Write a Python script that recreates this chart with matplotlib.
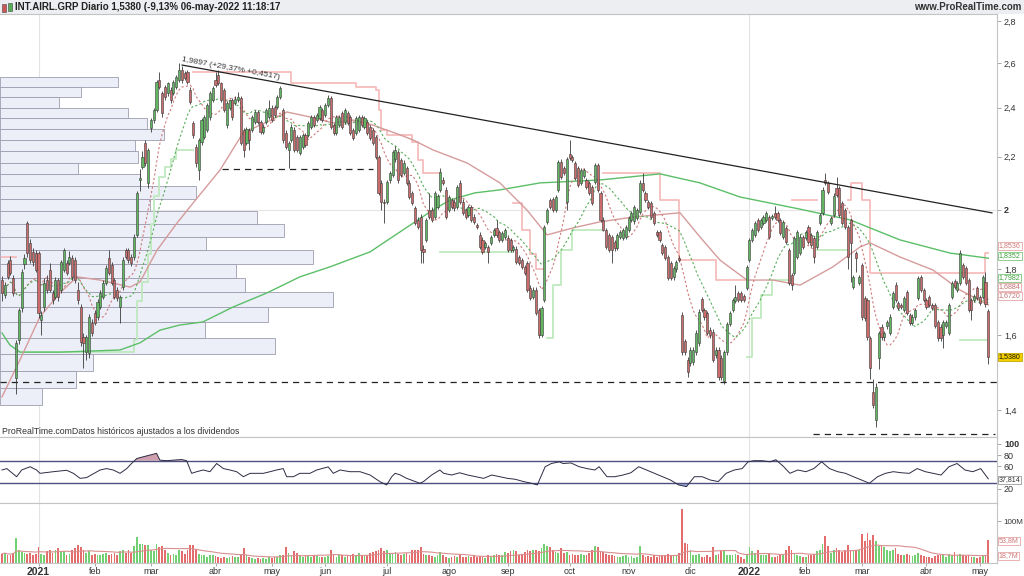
import numpy as np
import pandas as pd
import matplotlib
matplotlib.use("Agg")
import matplotlib.pyplot as plt
from matplotlib.patches import Rectangle
from matplotlib.ticker import NullLocator

plt.rcParams['font.family'] = ['Liberation Sans', 'DejaVu Sans']
nan = float('nan')

# ------------------------------------------------------------------ data
opens = [
 1.765, 1.719, 1.819, 1.829, 1.771, 1.482, 1.586, 1.680, 1.815, 1.954,
 1.886, 1.855, 1.852, 1.852, 1.644, 1.682, 1.765, 1.797, 1.724, 1.712,
 1.765, 1.734, 1.797, 1.819, 1.819, 1.835, 1.829, 1.734, 1.682, 1.594,
 1.552, 1.549, 1.635, 1.664, 1.652, 1.682, 1.712, 1.756, 1.835, 1.813,
 1.765, 1.734, 1.682, 1.743, 1.862, 1.862, 1.839, 1.839, 1.913, 2.110,
 2.160, 2.253, 2.099, 2.315, 2.348, 2.390, 2.522, 2.464, 2.490, 2.464,
 2.477, 2.464, 2.490, 2.522, 2.567, 2.554, 2.558, 2.477, 2.336, 2.238,
 2.148, 2.256, 2.278, 2.307, 2.360, 2.433, 2.522, 2.544, 2.508, 2.477,
 2.327, 2.400, 2.433, 2.420, 2.433, 2.442, 2.307, 2.254, 2.307, 2.307,
 2.339, 2.381, 2.339, 2.299, 2.339, 2.360, 2.399, 2.403, 2.403, 2.446,
 2.390, 2.295, 2.226, 2.266, 2.307, 2.278, 2.214, 2.238, 2.287, 2.287,
 2.320, 2.360, 2.348, 2.356, 2.390, 2.369, 2.412, 2.442, 2.327, 2.295,
 2.327, 2.377, 2.339, 2.377, 2.360, 2.307, 2.295, 2.307, 2.360, 2.320,
 2.339, 2.320, 2.307, 2.278, 2.198, 2.099, 2.029, 2.029, 2.110, 2.130,
 2.190, 2.218, 2.187, 2.137, 2.156, 2.099, 2.062, 2.007, 1.965, 1.975,
 1.866, 1.896, 2.000, 2.000, 1.975, 2.010, 2.073, 2.110, 2.073, 2.000,
 2.036, 2.029, 2.010, 2.099, 2.029, 2.000, 1.982, 2.010, 1.975, 1.947,
 1.913, 1.896, 1.872, 1.872, 1.886, 1.913, 1.937, 1.923, 1.896, 1.906,
 1.903, 1.896, 1.862, 1.866, 1.839, 1.829, 1.806, 1.819, 1.740, 1.712,
 1.734, 1.673, 1.600, 1.703, 1.958, 2.036, 2.040, 2.000, 2.073, 2.180,
 2.156, 2.029, 2.210, 2.198, 2.175, 2.156, 2.099, 2.125, 2.110, 2.099,
 2.084, 2.103, 2.168, 2.062, 1.965, 1.930, 1.913, 1.906, 1.889, 1.869,
 1.906, 1.903, 1.906, 1.930, 1.965, 1.960, 1.972, 1.993, 2.099, 2.062,
 2.029, 2.025, 1.990, 1.923, 1.923, 1.879, 1.872, 1.839, 1.819, 1.774,
 1.800, 1.835, 1.658, 1.583, 1.531, 1.522, 1.524, 1.552, 1.577, 1.706,
 1.673, 1.664, 1.615, 1.609, 1.544, 1.558, 1.536, 1.475, 1.552, 1.632,
 1.673, 1.700, 1.724, 1.724, 1.715, 1.740, 1.830, 1.896, 1.913, 1.965,
 1.940, 1.955, 1.965, 1.975, 1.972, 1.990, 1.990, 1.965, 1.906, 1.937,
 1.862, 1.781, 1.787, 1.839, 1.852, 1.906, 1.903, 1.940, 1.913, 1.903,
 1.872, 1.955, 1.990, 2.110, 2.099, 1.955, 1.982, 2.080, 2.080, 2.025,
 2.000, 1.940, 1.965, 1.743, 1.852, 1.756, 1.813, 1.709, 1.703, 1.591,
 1.446, 1.375, 1.536, 1.624, 1.594, 1.626, 1.606, 1.682, 1.750, 1.694,
 1.688, 1.673, 1.727, 1.658, 1.635, 1.652, 1.709, 1.774, 1.734, 1.703,
 1.712, 1.688, 1.688, 1.638, 1.624, 1.600, 1.626, 1.606, 1.712, 1.762,
 1.734, 1.756, 1.813, 1.803, 1.765, 1.703, 1.703, 1.740, 1.712, 1.712,
 1.759, 1.670]

highs = [
 1.778, 1.760, 1.830, 1.842, 1.780, 1.585, 1.680, 1.800, 1.850, 1.962,
 1.900, 1.870, 1.862, 1.860, 1.670, 1.770, 1.780, 1.820, 1.735, 1.775,
 1.772, 1.830, 1.870, 1.830, 1.860, 1.845, 1.838, 1.760, 1.690, 1.605,
 1.600, 1.660, 1.648, 1.672, 1.705, 1.735, 1.765, 1.812, 1.862, 1.822,
 1.772, 1.742, 1.720, 1.838, 1.870, 1.868, 1.848, 1.915, 2.070, 2.150,
 2.220, 2.265, 2.235, 2.355, 2.400, 2.520, 2.558, 2.475, 2.500, 2.515,
 2.490, 2.520, 2.545, 2.600, 2.585, 2.565, 2.568, 2.490, 2.345, 2.250,
 2.275, 2.355, 2.370, 2.420, 2.472, 2.495, 2.558, 2.567, 2.515, 2.485,
 2.428, 2.440, 2.442, 2.450, 2.470, 2.450, 2.315, 2.320, 2.315, 2.368,
 2.390, 2.390, 2.348, 2.330, 2.398, 2.435, 2.410, 2.412, 2.455, 2.495,
 2.400, 2.305, 2.262, 2.330, 2.318, 2.287, 2.287, 2.296, 2.296, 2.345,
 2.369, 2.368, 2.378, 2.412, 2.398, 2.420, 2.455, 2.450, 2.336, 2.368,
 2.370, 2.386, 2.398, 2.386, 2.368, 2.315, 2.365, 2.368, 2.368, 2.365,
 2.348, 2.328, 2.315, 2.287, 2.206, 2.108, 2.040, 2.110, 2.145, 2.226,
 2.240, 2.226, 2.196, 2.185, 2.165, 2.108, 2.070, 2.015, 1.975, 1.985,
 1.880, 1.972, 2.062, 2.010, 2.070, 2.058, 2.155, 2.120, 2.082, 2.055,
 2.045, 2.038, 2.092, 2.110, 2.038, 2.008, 2.018, 2.018, 1.984, 1.955,
 1.922, 1.905, 1.894, 1.880, 1.914, 1.938, 1.965, 1.930, 1.928, 1.938,
 1.912, 1.904, 1.880, 1.874, 1.846, 1.836, 1.814, 1.826, 1.748, 1.742,
 1.742, 1.680, 1.686, 1.948, 2.008, 2.045, 2.048, 2.055, 2.188, 2.190,
 2.165, 2.198, 2.266, 2.206, 2.184, 2.164, 2.156, 2.156, 2.118, 2.107,
 2.092, 2.176, 2.176, 2.070, 1.975, 1.938, 1.920, 1.914, 1.896, 1.920,
 1.930, 1.938, 1.948, 1.980, 1.998, 2.018, 2.008, 2.108, 2.137, 2.070,
 2.037, 2.033, 1.998, 1.930, 1.930, 1.886, 1.880, 1.846, 1.826, 1.810,
 1.830, 1.842, 1.666, 1.590, 1.538, 1.565, 1.565, 1.614, 1.675, 1.712,
 1.680, 1.671, 1.622, 1.616, 1.565, 1.565, 1.543, 1.559, 1.639, 1.671,
 1.710, 1.750, 1.731, 1.731, 1.722, 1.813, 1.903, 1.937, 1.962, 1.972,
 1.972, 1.982, 1.998, 1.982, 1.985, 2.014, 1.998, 1.972, 1.965, 1.944,
 1.869, 1.788, 1.910, 1.930, 1.915, 1.914, 1.930, 1.948, 1.920, 1.910,
 1.930, 1.990, 2.082, 2.137, 2.106, 1.980, 2.060, 2.122, 2.088, 2.033,
 2.008, 1.948, 1.973, 1.782, 1.860, 1.782, 1.820, 1.716, 1.710, 1.598,
 1.480, 1.470, 1.613, 1.632, 1.613, 1.645, 1.660, 1.731, 1.758, 1.701,
 1.695, 1.716, 1.734, 1.665, 1.660, 1.680, 1.778, 1.781, 1.741, 1.710,
 1.719, 1.695, 1.695, 1.645, 1.631, 1.645, 1.645, 1.695, 1.763, 1.769,
 1.763, 1.862, 1.820, 1.810, 1.772, 1.710, 1.722, 1.747, 1.719, 1.781,
 1.790, 1.677]

lows = [
 1.700, 1.710, 1.768, 1.780, 1.715, 1.440, 1.575, 1.668, 1.800, 1.840,
 1.820, 1.810, 1.790, 1.650, 1.600, 1.670, 1.725, 1.728, 1.690, 1.705,
 1.700, 1.725, 1.790, 1.780, 1.812, 1.765, 1.755, 1.690, 1.570, 1.510,
 1.530, 1.535, 1.598, 1.628, 1.645, 1.676, 1.705, 1.750, 1.780, 1.748,
 1.705, 1.700, 1.635, 1.735, 1.832, 1.820, 1.810, 1.830, 1.905, 2.070,
 2.150, 2.165, 2.080, 2.300, 2.335, 2.380, 2.480, 2.360, 2.435, 2.450,
 2.420, 2.455, 2.480, 2.515, 2.510, 2.520, 2.505, 2.415, 2.275, 2.160,
 2.110, 2.245, 2.270, 2.300, 2.350, 2.425, 2.490, 2.500, 2.425, 2.380,
 2.315, 2.390, 2.350, 2.410, 2.425, 2.245, 2.198, 2.245, 2.226, 2.300,
 2.330, 2.330, 2.290, 2.290, 2.330, 2.352, 2.340, 2.360, 2.395, 2.440,
 2.255, 2.230, 2.156, 2.258, 2.218, 2.218, 2.205, 2.230, 2.238, 2.278,
 2.312, 2.320, 2.340, 2.348, 2.340, 2.360, 2.405, 2.312, 2.287, 2.287,
 2.318, 2.312, 2.330, 2.328, 2.287, 2.266, 2.287, 2.298, 2.318, 2.312,
 2.287, 2.266, 2.246, 2.190, 2.055, 2.000, 1.955, 2.020, 2.100, 2.122,
 2.180, 2.100, 2.120, 2.129, 2.090, 2.040, 2.018, 1.948, 1.932, 1.819,
 1.819, 1.888, 1.968, 1.958, 1.968, 2.002, 2.065, 2.090, 1.968, 1.992,
 2.002, 1.998, 2.002, 2.020, 1.982, 1.968, 1.975, 1.958, 1.950, 1.932,
 1.865, 1.848, 1.865, 1.819, 1.878, 1.905, 1.906, 1.889, 1.889, 1.898,
 1.855, 1.855, 1.855, 1.815, 1.812, 1.799, 1.780, 1.727, 1.702, 1.705,
 1.658, 1.592, 1.594, 1.696, 1.950, 2.002, 1.992, 1.992, 2.065, 2.114,
 2.128, 2.000, 2.188, 2.180, 2.110, 2.084, 2.091, 2.118, 2.076, 2.055,
 2.018, 2.095, 2.065, 1.958, 1.925, 1.865, 1.855, 1.819, 1.860, 1.862,
 1.898, 1.895, 1.898, 1.922, 1.958, 1.952, 1.965, 1.985, 2.065, 2.028,
 2.002, 1.968, 1.948, 1.905, 1.889, 1.845, 1.828, 1.764, 1.764, 1.766,
 1.792, 1.822, 1.545, 1.545, 1.485, 1.515, 1.517, 1.545, 1.570, 1.666,
 1.645, 1.600, 1.593, 1.524, 1.537, 1.478, 1.478, 1.466, 1.545, 1.625,
 1.666, 1.693, 1.696, 1.696, 1.696, 1.733, 1.823, 1.889, 1.906, 1.923,
 1.933, 1.948, 1.958, 1.899, 1.965, 1.968, 1.958, 1.913, 1.899, 1.882,
 1.749, 1.734, 1.780, 1.832, 1.845, 1.865, 1.895, 1.882, 1.872, 1.819,
 1.865, 1.948, 1.982, 2.090, 2.058, 1.948, 1.975, 2.048, 1.975, 1.948,
 1.933, 1.800, 1.760, 1.736, 1.790, 1.749, 1.645, 1.642, 1.587, 1.480,
 1.405, 1.358, 1.505, 1.587, 1.587, 1.618, 1.599, 1.675, 1.696, 1.672,
 1.675, 1.666, 1.657, 1.628, 1.628, 1.645, 1.702, 1.727, 1.696, 1.675,
 1.681, 1.672, 1.619, 1.584, 1.584, 1.564, 1.619, 1.599, 1.705, 1.736,
 1.727, 1.749, 1.767, 1.749, 1.666, 1.644, 1.696, 1.702, 1.687, 1.705,
 1.681, 1.520]

closes = [
 1.724, 1.749, 1.774, 1.787, 1.724, 1.577, 1.673, 1.790, 1.835, 1.852,
 1.829, 1.822, 1.797, 1.664, 1.658, 1.756, 1.734, 1.734, 1.703, 1.765,
 1.712, 1.822, 1.862, 1.787, 1.839, 1.774, 1.765, 1.703, 1.580, 1.577,
 1.594, 1.652, 1.606, 1.635, 1.697, 1.724, 1.756, 1.803, 1.787, 1.756,
 1.712, 1.709, 1.712, 1.829, 1.839, 1.829, 1.819, 1.906, 2.061, 2.118,
 2.198, 2.175, 2.226, 2.348, 2.390, 2.513, 2.490, 2.377, 2.446, 2.508,
 2.433, 2.513, 2.535, 2.567, 2.522, 2.531, 2.513, 2.425, 2.287, 2.175,
 2.266, 2.348, 2.360, 2.410, 2.464, 2.486, 2.499, 2.508, 2.433, 2.390,
 2.420, 2.433, 2.360, 2.440, 2.446, 2.254, 2.226, 2.311, 2.266, 2.360,
 2.381, 2.339, 2.299, 2.320, 2.390, 2.399, 2.348, 2.369, 2.446, 2.486,
 2.266, 2.238, 2.254, 2.320, 2.226, 2.226, 2.278, 2.287, 2.246, 2.336,
 2.360, 2.327, 2.369, 2.403, 2.348, 2.412, 2.442, 2.320, 2.295, 2.360,
 2.360, 2.320, 2.390, 2.336, 2.295, 2.274, 2.356, 2.360, 2.327, 2.356,
 2.295, 2.274, 2.254, 2.198, 2.062, 2.029, 2.025, 2.103, 2.137, 2.218,
 2.226, 2.110, 2.129, 2.176, 2.099, 2.047, 2.025, 1.955, 1.940, 1.862,
 1.855, 1.965, 1.975, 1.965, 2.062, 2.050, 2.140, 2.099, 1.975, 2.047,
 2.010, 2.007, 2.084, 2.029, 1.990, 1.975, 2.010, 1.965, 1.958, 1.940,
 1.872, 1.855, 1.886, 1.855, 1.906, 1.930, 1.913, 1.896, 1.920, 1.930,
 1.862, 1.862, 1.872, 1.822, 1.819, 1.806, 1.787, 1.734, 1.709, 1.734,
 1.664, 1.600, 1.679, 1.940, 2.000, 2.010, 2.000, 2.047, 2.180, 2.122,
 2.137, 2.190, 2.195, 2.187, 2.118, 2.091, 2.148, 2.148, 2.084, 2.062,
 2.025, 2.168, 2.073, 1.965, 1.930, 1.872, 1.862, 1.862, 1.869, 1.913,
 1.923, 1.930, 1.940, 1.972, 1.990, 2.010, 2.000, 2.099, 2.073, 2.036,
 2.010, 1.975, 1.955, 1.913, 1.896, 1.852, 1.835, 1.771, 1.771, 1.803,
 1.822, 1.829, 1.552, 1.552, 1.498, 1.558, 1.558, 1.607, 1.667, 1.673,
 1.652, 1.607, 1.600, 1.531, 1.558, 1.485, 1.485, 1.552, 1.632, 1.664,
 1.703, 1.712, 1.703, 1.703, 1.703, 1.806, 1.896, 1.930, 1.955, 1.930,
 1.965, 1.975, 1.990, 1.906, 1.978, 1.975, 1.965, 1.920, 1.958, 1.889,
 1.756, 1.750, 1.903, 1.923, 1.906, 1.872, 1.923, 1.889, 1.879, 1.839,
 1.923, 1.982, 2.073, 2.099, 2.066, 1.972, 2.051, 2.055, 1.982, 1.955,
 1.940, 1.839, 1.886, 1.775, 1.835, 1.775, 1.652, 1.649, 1.594, 1.509,
 1.412, 1.459, 1.606, 1.594, 1.606, 1.638, 1.652, 1.724, 1.703, 1.679,
 1.682, 1.709, 1.664, 1.635, 1.652, 1.673, 1.771, 1.734, 1.703, 1.682,
 1.688, 1.679, 1.626, 1.591, 1.591, 1.638, 1.638, 1.688, 1.756, 1.743,
 1.756, 1.852, 1.774, 1.756, 1.673, 1.673, 1.715, 1.709, 1.694, 1.774,
 1.6925, 1.538]

volumes_m = [
 22, 25, 18, 20, 24, 60, 30, 26, 24, 22,
 25, 20, 22, 39, 22, 18, 28, 32, 25, 30,
 36, 28, 28, 20, 22, 30, 35, 44, 38, 30,
 25, 28, 20, 22, 18, 20, 22, 24, 20, 22,
 25, 20, 28, 30, 25, 30, 25, 40, 63, 45,
 45, 42, 42, 30, 28, 45, 38, 40, 30, 25,
 20, 22, 20, 30, 28, 22, 30, 42, 42, 30,
 22, 18, 18, 15, 18, 20, 16, 14, 12, 14,
 12, 14, 16, 14, 14, 18, 36, 20, 15, 12,
 10, 12, 10, 12, 10, 14, 12, 14, 14, 18,
 20, 38, 25, 20, 28, 24, 20, 15, 18, 16,
 14, 18, 16, 15, 14, 14, 16, 30, 22, 15,
 18, 20, 14, 16, 18, 22, 18, 24, 20, 16,
 20, 24, 26, 28, 32, 36, 28, 32, 24, 22,
 26, 22, 20, 22, 25, 20, 30, 32, 30, 38,
 22, 18, 20, 16, 14, 18, 26, 18, 14, 12,
 14, 16, 14, 18, 14, 15, 16, 14, 18, 14,
 16, 14, 12, 18, 15, 20, 22, 18, 20, 26,
 24, 28, 30, 28, 20, 22, 26, 30, 28, 32,
 30, 28, 35, 46, 40, 38, 30, 26, 24, 35,
 24, 26, 20, 22, 18, 20, 22, 18, 20, 24,
 30, 40, 38, 28, 26, 22, 18, 20, 16, 14,
 15, 16, 18, 14, 16, 12, 14, 40, 20, 14,
 16, 15, 18, 14, 16, 20, 18, 22, 20, 18,
 20, 25, 129, 48, 45, 30, 20, 18, 22, 15,
 14, 20, 15, 37, 20, 22, 28, 30, 20, 18,
 20, 22, 18, 14, 10, 18, 38, 28, 24, 30,
 20, 18, 20, 24, 15, 15, 16, 18, 20, 30,
 40, 32, 22, 18, 16, 14, 15, 18, 20, 22,
 28, 30, 45, 64, 40, 25, 32, 35, 30, 26,
 30, 42, 30, 28, 30, 32, 68, 52, 71, 55,
 66, 52, 40, 42, 38, 30, 28, 30, 35, 22,
 20, 18, 22, 18, 16, 20, 24, 18, 16, 14,
 15, 12, 16, 20, 18, 22, 15, 22, 20, 26,
 18, 22, 18, 16, 20, 15, 14, 13, 15, 16,
 18, 53.8]

month_pos = [13, 33, 53, 76, 96, 115, 137, 159, 180, 202, 223, 245, 266, 286, 306, 329, 348]
month_labels = ['2021', 'feb', 'mar', 'abr', 'may', 'jun', 'jul', 'ago', 'sep', 'oct',
                'nov', 'dic', '2022', 'feb', 'mar', 'abr', 'may']
year_pos = [13, 266]

ma200_idx = [0, 2.8, 6.4, 20.6, 42, 49.1, 56.2, 63.3, 71.5, 82.2, 94.3, 106, 116.7, 131,
             141.6, 152.3, 159.4, 168.3, 177.2, 191.5, 212.8, 234.2, 248.4, 262.6, 284,
             301.8, 319.6, 337.4, 351]
ma200_val = [1.606, 1.572, 1.552, 1.552, 1.558, 1.578, 1.614, 1.629, 1.638, 1.682, 1.725,
             1.775, 1.807, 1.856, 1.923, 1.993, 2.036, 2.062, 2.073, 2.099, 2.110, 2.133,
             2.099, 2.047, 2.003, 1.965, 1.896, 1.852, 1.8352]

ma50_idx = [0, 6.4, 13.5, 20.6, 26.7, 34.9, 45.6, 49.1, 55.2, 62.3, 68, 77.6, 85.8, 94.3,
            101.4, 109.6, 117.8, 124.9, 132, 141.6, 146.3, 153.4, 165.5, 177.2, 186.8,
            194, 203.2, 212.8, 224.6, 241.3, 248.4, 255.5, 265.1, 274.4, 284, 295.7,
            305.3, 308.9, 319.6, 331.3, 340.9, 351]
ma50_val = [1.433, 1.531, 1.653, 1.725, 1.775, 1.765, 1.743, 1.759, 1.862, 1.954, 2.025,
            2.148, 2.295, 2.340, 2.382, 2.361, 2.336, 2.348, 2.327, 2.287, 2.266, 2.226,
            2.175, 2.099, 2.000, 1.913, 1.937, 1.958, 1.975, 1.990, 1.906, 1.829, 1.765,
            1.765, 1.749, 1.807, 1.872, 1.886, 1.839, 1.797, 1.734, 1.6884]

upper_idx = [0, 5, 68, 103, 126, 133, 134, 135, 137, 146, 148, 150, 156, 182, 185, 188,
             190, 193, 214, 234, 241, 254, 265, 281, 290, 301, 302, 306, 309, 350, 351]
upper_val = [1.84, nan, 2.556, 2.508, 2.49, 2.477, 2.39, 2.307, 2.287, 2.258, 2.187, 2.137,
             nan, 2.025, 1.93, 1.85, 1.80, nan, 2.137, 2.036, 1.829, 1.765, nan, 2.036, nan,
             2.036, 2.10, 2.036, 1.787, 1.8536, 1.8536]

lower_idx = [0, 6, 47, 48, 50, 52, 53, 54, 56, 58, 60, 62, 68, 156, 182, 194, 196, 199,
             203, 214, 265, 267, 270, 274, 281, 290, 301, 341, 351]
lower_val = [nan, 1.552, 1.586, 1.70, 1.76, 1.85, 1.95, 2.05, 2.12, 2.16, 2.19, 2.226, nan,
             1.855, nan, 1.593, 1.75, 1.862, 1.93, nan, 1.538, 1.65, 1.72, 1.765, nan,
             1.862, nan, 1.586, 1.586]

rsi_idx = [0, 1.7, 5.2, 7, 10, 12.3, 13.5, 18.3, 23, 25.4,
           27.8, 30.1, 34.9, 37.2, 39.6, 42, 44.4, 46.1, 48, 50.3,
           52.7, 55, 56.2, 58.6, 61, 64, 65.7, 67.5, 69.3, 71.6,
           74, 76.4, 78.8, 81.1, 83.5, 85.9, 88.3, 93, 95.4, 97.7,
           100.1, 101.3, 103.7, 106, 109.6, 112, 116.1, 117.9, 120.3, 123.8,
           127.4, 131, 134.5, 136.9, 138.7, 139.9, 141.6, 144, 148.7, 150,
           152.9, 155.8, 157.2, 160, 162.9, 165.7, 168.6, 171.4, 174.3, 177.1,
           179.9, 182.7, 185.6, 188.4, 190.5, 193.3, 195.5, 198.3, 199.7, 202.5,
           205.4, 208.2, 211, 212.5, 215.3, 218.1, 221, 223.8, 226.6, 229.4,
           232.3, 235.1, 237.9, 240.8, 243.6, 246.4, 249.2, 252.1, 254.9, 257.7,
           260.6, 263.4, 265.5, 267.6, 270.5, 273.3, 275.4, 278.2, 280.4, 283.2,
           286.1, 288.9, 291.7, 294.5, 297.4, 300.2, 303, 305.9, 308.7, 311.6,
           314.4, 317.2, 320.1, 322.9, 325.7, 328.6, 331.4, 334.2, 337, 339.9,
           342.7, 345.5, 348.3, 351]
rsi_val = [53.5, 56, 41.6, 53.5, 59.3, 53.5, 47.6, 50.5, 53, 47.6,
           38.7, 40, 53.5, 56, 53.5, 47.6, 56, 65, 74, 77,
           80, 83, 71, 70, 71, 72, 70, 47.6, 50.5, 53.5,
           50.5, 65, 56, 53.5, 50.5, 41.6, 47.6, 47.6, 50.5, 53.5,
           56, 41.6, 41.6, 47.6, 47.6, 53.5, 59, 47.6, 53.5, 50.5,
           50.5, 44.6, 32.8, 27, 41.6, 47.6, 45, 38.7, 30, 33,
           44.6, 53.5, 47.6, 44.6, 48.6, 44.6, 41.6, 38.7, 44.6, 41.6,
           38.7, 37, 33, 30, 27, 59.3, 65, 68, 65, 66,
           59.3, 56, 53.5, 59.3, 41.6, 41.6, 44.6, 48.6, 59.3, 53.5,
           47.6, 41.6, 35.7, 27, 24, 41.6, 41.6, 35.7, 33, 47.6,
           53.5, 56, 68, 70, 70, 68, 71.7, 59.3, 47.6, 53.5,
           50.5, 56, 68, 56, 50.5, 47.6, 41.6, 35.7, 30, 41.6,
           47.6, 50.5, 48.6, 47.6, 56, 50.5, 47.6, 44.6, 59.3, 65,
           53.5, 50.5, 56, 37.814]

# volume-at-price profile (relative, bottom bin to top bin)
profile_vals = [12.6, 22.8, 27.9, 82.6, 61.6, 80.5, 100, 73.6, 70.9, 94, 61.9, 85.3, 77.2,
                45, 58.9, 42, 23.4, 41.4, 40.5, 49.2, 44.1, 38.4, 17.7, 24.3, 35.4]
profile_low, profile_high = 1.412, 2.535

trend_idx = [64.1, 352.3]
trend_val = [2.590, 1.9897]
trend_text = '1,9897 (+29,37% +0,4517)'

dash_levels = [1.4715, 2.152, 1.341]
dash_from = [-0.7, 78.3, 288.6]
dash_to = [354.1, 132, 353.4]

last_price = 1.538
rsi_last = 37.814
side_labels_main = ['1,8536', '1,8352', '1,7982', '1,6884', '1,6720']
vol_last_label, vol_ma_label = '53,8M', '18,7M'

# ------------------------------------------------------------------ figure
W, H = 1024, 576
fig = plt.figure(figsize=(W / 100, H / 100), dpi=100)
fig.patch.set_facecolor('white')


def fy(px):
    return 1 - px / H


AXW = 997 / W
ax = fig.add_axes([0, fy(437), AXW, (437 - 14) / H])
ax_rsi = fig.add_axes([0, fy(503), AXW, 66 / H])
ax_vol = fig.add_axes([0, fy(563), AXW, 60 / H])
XLIM = (-0.71, 354.1)

for a in (ax, ax_rsi, ax_vol):
    a.set_xlim(*XLIM)
    a.set_facecolor('white')
    a.spines['left'].set_visible(False)
    for s in ('top', 'right', 'bottom'):
        a.spines[s].set_color('#c4c4c4')
        a.spines[s].set_linewidth(0.8)
    for yp in year_pos:
        a.axvline(yp, color='#e3e3e3', lw=0.8, zorder=0)
    a.tick_params(axis='y', which='both', left=False, right=True, labelleft=False,
                  labelright=True, length=3, width=0.6, color='#999999',
                  labelsize=6.5, labelcolor='#333333', pad=2)

# header
fig.add_artist(Rectangle((0, fy(14)), 1, 14 / H, transform=fig.transFigure,
                         facecolor='#eceef2', edgecolor='none', zorder=-1))
fig.add_artist(Rectangle((2 / W, fy(12)), 4 / W, 8 / H, transform=fig.transFigure,
                         facecolor='#d05555', edgecolor='#444444', lw=0.4))
fig.add_artist(Rectangle((8 / W, fy(11)), 4 / W, 8 / H, transform=fig.transFigure,
                         facecolor='#55b055', edgecolor='#444444', lw=0.4))
fig.text(15 / W, fy(7.5), 'INT.AIRL.GRP Diario 1,5380 (-9,13% 06-may-2022 11:18:17',
         fontsize=7, fontweight='bold', color='#222222', va='center', ha='left')
fig.text(1021 / W, fy(7.5), 'www.ProRealTime.com', fontsize=7, fontweight='bold',
         color='#333333', va='center', ha='right')

# ------------------------------------------------------------------ main panel
idx = np.arange(len(closes))
o = np.array(opens); c = np.array(closes)
h = np.maximum(np.array(highs), np.maximum(o, c))
l = np.minimum(np.array(lows), np.minimum(o, c))
up = c >= o

ax.set_yscale('log')
ax.set_ylim(1.334, 2.837)

edges = np.linspace(profile_low, profile_high, len(profile_vals) + 1)
ax.barh(edges[:-1], np.array(profile_vals) * 1.185, height=np.diff(edges), left=XLIM[0],
        align='edge', color='#eceef8', edgecolor='#9d9db0', lw=0.6, zorder=1)

ax.axhline(2.0, color='#e6e6e6', lw=0.8, zorder=0)

ax.plot(upper_idx, upper_val, drawstyle='steps-post', color='#f6bcbc', lw=1.3, zorder=2)
ax.plot(lower_idx, lower_val, drawstyle='steps-post', color='#bfe9bf', lw=1.3, zorder=2)
ax.plot(ma200_idx, ma200_val, color='#5cbf68', lw=1.0, zorder=3)
ax.plot(ma50_idx, ma50_val, color='#d69c9c', lw=1.0, zorder=3)
cs = pd.Series(c)
ax.plot(idx, cs.rolling(10, min_periods=1).mean(), color='#d07a7a', lw=0.8,
        ls=(0, (2, 2)), zorder=3)
ax.plot(idx, cs.rolling(20, min_periods=1).mean(), color='#5aae5a', lw=0.8,
        ls=(0, (2, 2)), zorder=3)

for lv, x0, x1 in zip(dash_levels, dash_from, dash_to):
    ax.plot([x0, x1], [lv, lv], color='#222222', lw=0.9, ls=(0, (5, 4)), zorder=3)

ax.plot(trend_idx, trend_val, color='#222222', lw=0.9, zorder=6)
ax.text(trend_idx[0] - 0.5, trend_val[0] * 1.004, trend_text, fontsize=6, color='#333333',
        rotation=-10.4, rotation_mode='anchor', ha='left', va='bottom', zorder=7)

ax.vlines(idx, l, h, color='#3a3a3a', lw=0.6, zorder=4)
body_col = np.where(up, '#62b662', '#cc6b6b')
ax.bar(idx, np.abs(c - o), bottom=np.minimum(o, c), width=0.75, color=body_col,
       edgecolor='#3a3a3a', lw=0.4, zorder=5)

ax.text(0.002, 0.012, 'ProRealTime.comDatos históricos ajustados a los dividendos',
        transform=ax.transAxes, fontsize=6.3, color='#333333', va='center', ha='left')

pticks = [1.4, 1.6, 1.8, 2.0, 2.2, 2.4, 2.6, 2.8]
ax.set_yticks(pticks)
ax.set_yticklabels([('%g' % t).replace('.', ',') for t in pticks])
ax.yaxis.set_minor_locator(NullLocator())
for t in ax.get_yticklabels():
    if t.get_text() == '2':
        t.set_fontweight('bold')
ax.tick_params(axis='x', bottom=False, labelbottom=False)


def side_box(a, yfrac, text, fc, ec, tc):
    a.text(1.0018, yfrac, text, transform=a.transAxes, fontsize=5.1, color=tc,
           va='center', ha='left', clip_on=False, zorder=10,
           bbox=dict(boxstyle='square,pad=0.12', fc=fc, ec=ec, lw=0.6))


def main_frac(ypx):
    return (437 - ypx) / 423


side_styles = [('#e6a6a6', '#d07878'), ('#7cc67c', '#3f9f3f'), ('#7cc67c', '#3f9f3f'),
               ('#e6a6a6', '#c07070'), ('#e6a6a6', '#c07070')]
side_ypx = [246, 256, 278, 287, 296]
for txt, (ec, tc), ypx in zip(side_labels_main, side_styles, side_ypx):
    side_box(ax, main_frac(ypx), txt, 'white', ec, tc)
side_box(ax, main_frac(357), ('%.4f' % last_price).replace('.', ','), '#f3d000', '#c9a800',
         '#111111')

# ------------------------------------------------------------------ RSI panel
ri = np.array(rsi_idx); rv = np.array(rsi_val)
ax_rsi.set_ylim(-5, 112)
ax_rsi.fill_between(ri, rv, 70, where=rv > 70, interpolate=True, color='#cfa0ae', lw=0)
ax_rsi.fill_between(ri, rv, 30, where=rv < 30, interpolate=True, color='#98aad4', lw=0)
ax_rsi.axhline(70, color='#505080', lw=1.0)
ax_rsi.axhline(30, color='#505080', lw=1.0)
ax_rsi.plot(ri, rv, color='#2c2c44', lw=0.7)
ax_rsi.set_yticks([100, 80, 60, 20])
ax_rsi.set_yticklabels(['100', '80', '60', '20'])
ax_rsi.get_yticklabels()[0].set_fontweight('bold')
ax_rsi.tick_params(axis='x', bottom=False, labelbottom=False)
side_box(ax_rsi, (503 - 480) / 66, ('%.3f' % rsi_last).replace('.', ','), 'white',
         '#999999', '#333333')

# ------------------------------------------------------------------ volume panel
vol = np.array(volumes_m)
ax_vol.set_ylim(0, 143)
ax_vol.bar(idx, vol, width=0.62, color=np.where(up, '#72cf72', '#e36c6c'), zorder=2)
ax_vol.plot(idx, pd.Series(vol).rolling(20, min_periods=1).mean(), color='#d98f8f',
            lw=0.8, zorder=3)
ax_vol.set_yticks([100])
ax_vol.set_yticklabels(['100M'])
ax_vol.tick_params(axis='y', labelsize=5.8, pad=1.5)
side_box(ax_vol, (563 - 541) / 60, vol_last_label, 'white', '#e6a6a6', '#d07878')
side_box(ax_vol, (563 - 556) / 60, vol_ma_label, 'white', '#e6a6a6', '#d07878')
ax_vol.set_xticks(month_pos)
ax_vol.set_xticklabels(month_labels)
ax_vol.tick_params(axis='x', length=2, width=0.6, color='#999999', labelsize=6.5,
                   labelcolor='#333333', pad=1)
for t in ax_vol.get_xticklabels():
    if t.get_text() in ('2021', '2022'):
        t.set_fontweight('bold')
        t.set_fontsize(7.5)

fig.savefig('out.png', dpi=100)
